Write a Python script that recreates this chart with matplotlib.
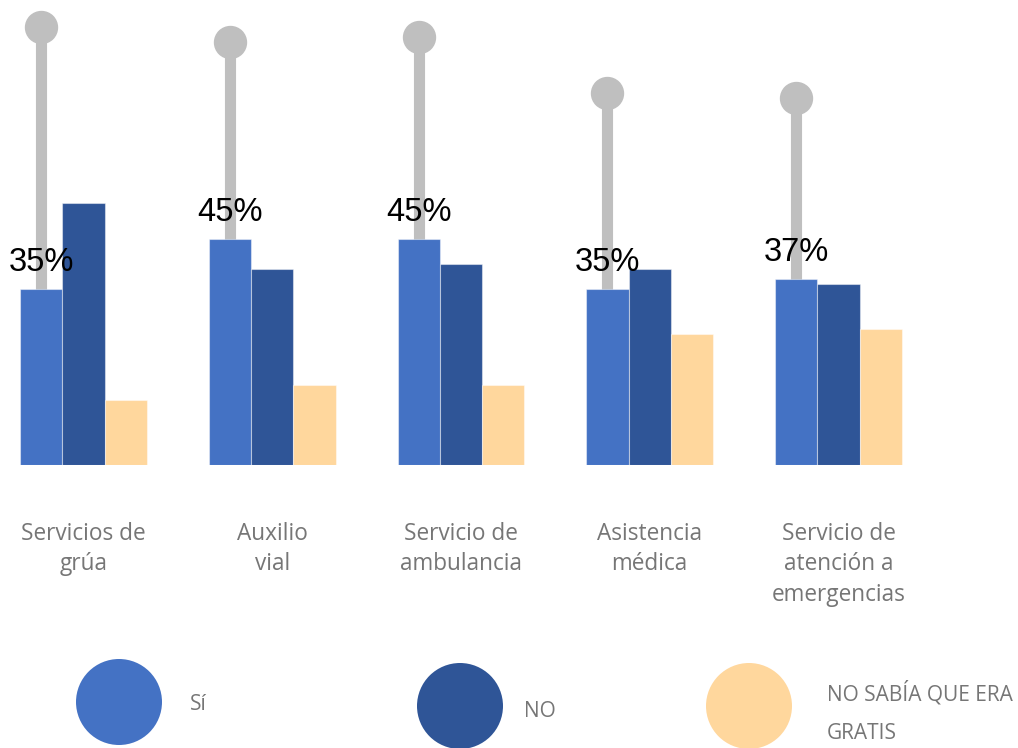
import matplotlib
matplotlib.use("Agg")
import matplotlib.pyplot as plt
from matplotlib.patches import Circle
import numpy as np

# Survey responses per service (percent)
categories = ["Servicios de\ngrúa", "Auxilio\nvial", "Servicio de\nambulancia",
              "Asistencia\nmédica", "Servicio de\natención a\nemergencias"]
si = [35, 45, 45, 35, 37]
no = [52, 39, 40, 39, 36]
no_sabia = [13, 16, 16, 26, 27]
pin_height = [87, 84, 85, 74, 73]
series_names = ["Sí", "NO", "NO SABÍA QUE ERA\nGRATIS"]
value_labels = ["35%", "45%", "45%", "35%", "37%"]

colors = ["#4472C4", "#2F5597", "#FFD79D"]
pin_color = "#BFBFBF"
text_grey = "#767676"

W, H = 1018, 748
fig = plt.figure(figsize=(W / 100, H / 100), dpi=100)

base_px = 465
ax = fig.add_axes([0, (H - base_px) / H, 1, base_px / H])
ax.set_ylim(0, base_px / 5.03)
group_px, first_px = 188.75, 83.5
ax.set_xlim((0 - first_px) / group_px, (W - first_px) / group_px)

x = np.arange(len(categories))
bw = 0.224

# decorative pins behind the "Sí" bars
sx = x - bw
ax.vlines(sx, 0, pin_height, color=pin_color, lw=8, zorder=1, capstyle="butt")
ax.plot(sx, pin_height, "o", color=pin_color, ms=23, zorder=1)

for k, (vals, c) in enumerate(zip([si, no, no_sabia], colors)):
    ax.bar(x + (k - 1) * bw, vals, width=bw, color=c, zorder=2,
           edgecolor=(1, 1, 1, 0.45), linewidth=0.8)

for xi, v, lab in zip(sx, si, value_labels):
    ax.annotate(lab, (xi, v), xytext=(0, 13), textcoords="offset points",
                ha="center", va="baseline", fontsize=23.5,
                family="Liberation Sans", color="black", zorder=5)

ax.set_xticks(x)
ax.set_xticklabels(categories, fontsize=16.3, family="Open Sans",
                   color=text_grey, linespacing=1.36)
ax.tick_params(axis="x", length=0, pad=41)
ax.tick_params(axis="y", left=False, labelleft=False)
for s in ax.spines.values():
    s.set_visible(False)

# legend drawn in pixel space
lg = fig.add_axes([0, 0, 1, 1], zorder=-1)
lg.set_xlim(0, W)
lg.set_ylim(H, 0)
lg.axis("off")
legend_centers = [(119, 702), (460, 706), (749, 706)]
for (cx, cy), c in zip(legend_centers, colors):
    lg.add_patch(Circle((cx, cy), 43, color=c, lw=0))
lg.text(190, 710, series_names[0], fontsize=15, family="Open Sans",
        color=text_grey, va="baseline")
lg.text(524, 717, series_names[1], fontsize=15, family="Open Sans",
        color=text_grey, va="baseline")
l1, l2 = series_names[2].split("\n")
lg.text(827, 701, l1, fontsize=15, family="Open Sans",
        color=text_grey, va="baseline")
lg.text(827, 739, l2, fontsize=15, family="Open Sans",
        color=text_grey, va="baseline")

fig.savefig("out.png", dpi=100)
